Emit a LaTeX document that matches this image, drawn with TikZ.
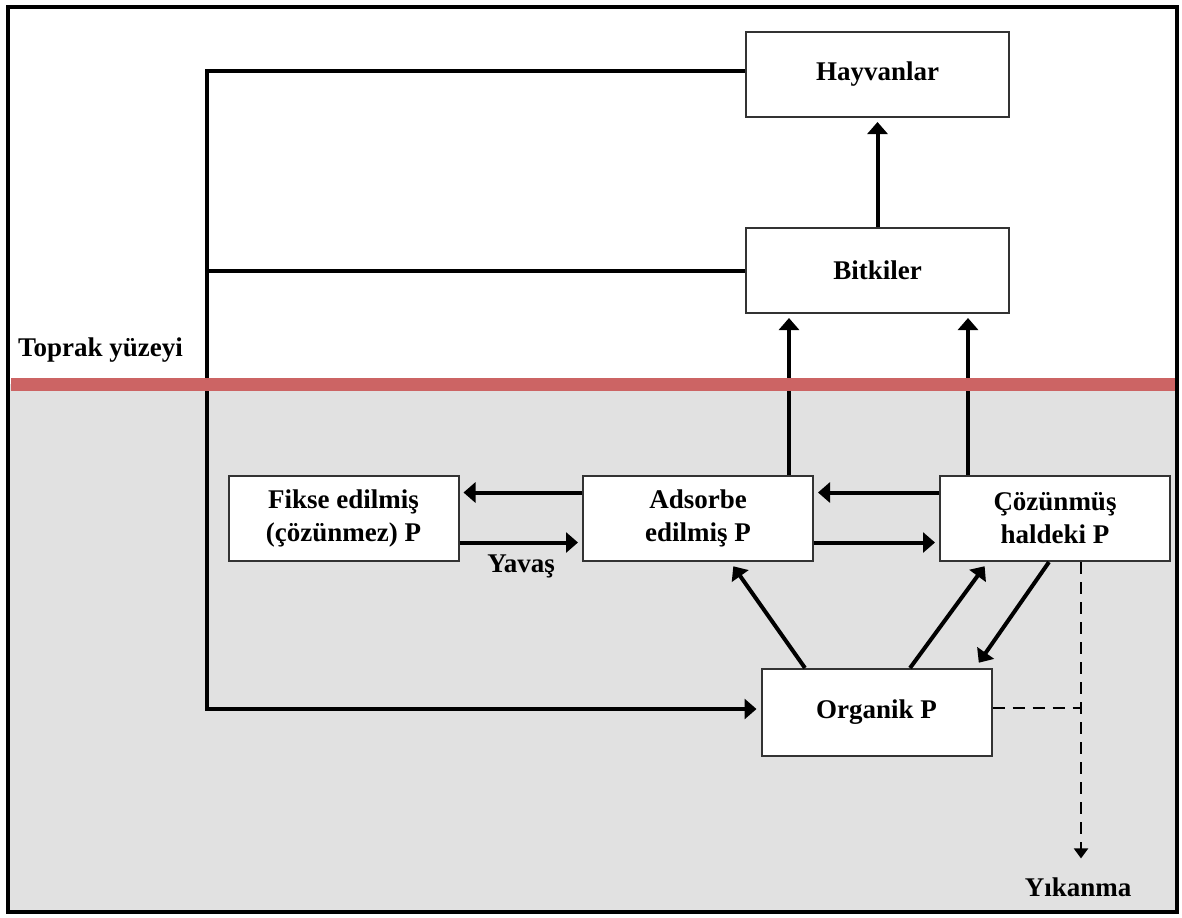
\documentclass[tikz,border=0pt]{standalone}
\usepackage{fontspec}
\setmainfont{Liberation Serif}
\usetikzlibrary{arrows.meta}

\definecolor{soilgray}{RGB}{225,225,225}
\definecolor{surfred}{RGB}{204,100,100}

\begin{document}
\begin{tikzpicture}[x = 0.5pt, y = -0.5pt,
        font = \fontsize{13.5}{16.5}\selectfont\bfseries,
        box/.style = {draw = black!80, line width = 1pt, fill = white, align = center,
                      inner sep = 0pt, minimum width = 115pt, minimum height = 42.5pt},
        bigbox/.style = {box, minimum width = 131.5pt},
        link/.style = {line width = 2pt, line join = miter},
        flow/.style = {link, -{Triangle[width = 10pt, length = 6pt]}, shorten > = 2pt},
        leach/.style = {line width = 1pt, dash pattern = on 6pt off 4pt,
                        -{Triangle[width = 7pt, length = 5pt]}}]
            \useasboundingbox (0, 0) rectangle (1182, 917);
            \fill [soilgray] (8, 384) rectangle (1177, 912);
            \draw [line width = 2.2pt] (8, 7) rectangle (1177, 912);
            % boxes
            \node [bigbox] (hay) at (877.5, 74.5) {Hayvanlar};
            \node [bigbox] (bit) at (877.5, 270.5) {Bitkiler};
            \node [box] (fix) at (343.5, 518.5) {Fikse edilmiş\\(çözünmez) P};
            \node [box] (ads) at (698, 518.5) {Adsorbe\\edilmiş P};
            \node [box] (coz) at (1055, 518.5) {Çözünmüş\\haldeki P};
            \node [box, minimum height = 43.5pt] (org) at (876.5, 712.5) {Organik P};
            \node [anchor = west] (surf) at (11, 350) {Toprak yüzeyi};
            \node (slow) at (521, 566) {Yavaş};
            \node (yik) at (1078, 887) {Yıkanma};
            \coordinate (bend) at (207, 709);
            \coordinate (feed) at ([yshift = 1.75pt]hay.west);
            \coordinate (upA) at ([xshift = 45.5pt]ads.north);
            \coordinate (upC) at ([xshift = -43.5pt]coz.north);
            \coordinate (wash) at ([xshift = 13pt]coz.south);
            % return path
            \draw [link] (bit.west) -- (bit.west -| bend);
            \draw [flow] (feed) -- (feed -| bend) -- (bend) -- (org.west |- bend);
            % uptake
            \draw [flow] (bit.north) -- (hay.south);
            \draw [flow] (upA) -- (upA |- bit.south);
            \draw [flow] (upC) -- (upC |- bit.south);
            % exchange in soil
            \draw [flow] ([yshift = 13pt]ads.west) -- ([yshift = 13pt]fix.east);
            \draw [flow] ([yshift = -12pt]fix.east) -- ([yshift = -12pt]ads.west);
            \draw [flow] ([yshift = 13pt]coz.west) -- ([yshift = 13pt]ads.east);
            \draw [flow] ([yshift = -12pt]ads.east) -- ([yshift = -12pt]coz.west);
            \draw [flow] ([xshift = -35.75pt]org.north) -- ([xshift = 16.5pt, yshift = -0.5pt]ads.south);
            \draw [flow] ([xshift = 16.75pt]org.north) -- ([xshift = -34pt, yshift = -0.5pt]coz.south);
            \draw [flow] ([xshift = -3pt]coz.south) -- ([xshift = 50pt, yshift = 1pt]org.north);
            % leaching
            \draw [leach, -] ([yshift = 2.25pt]org.east) -- ([yshift = 2.25pt]org.east -| wash);
            \draw [leach, shorten > = 6pt] (wash) -- (wash |- yik.north);
            % soil surface
            \draw [surfred, line width = 6.5pt] (11, 384) -- (1175, 384);
        \end{tikzpicture}
\end{document}
